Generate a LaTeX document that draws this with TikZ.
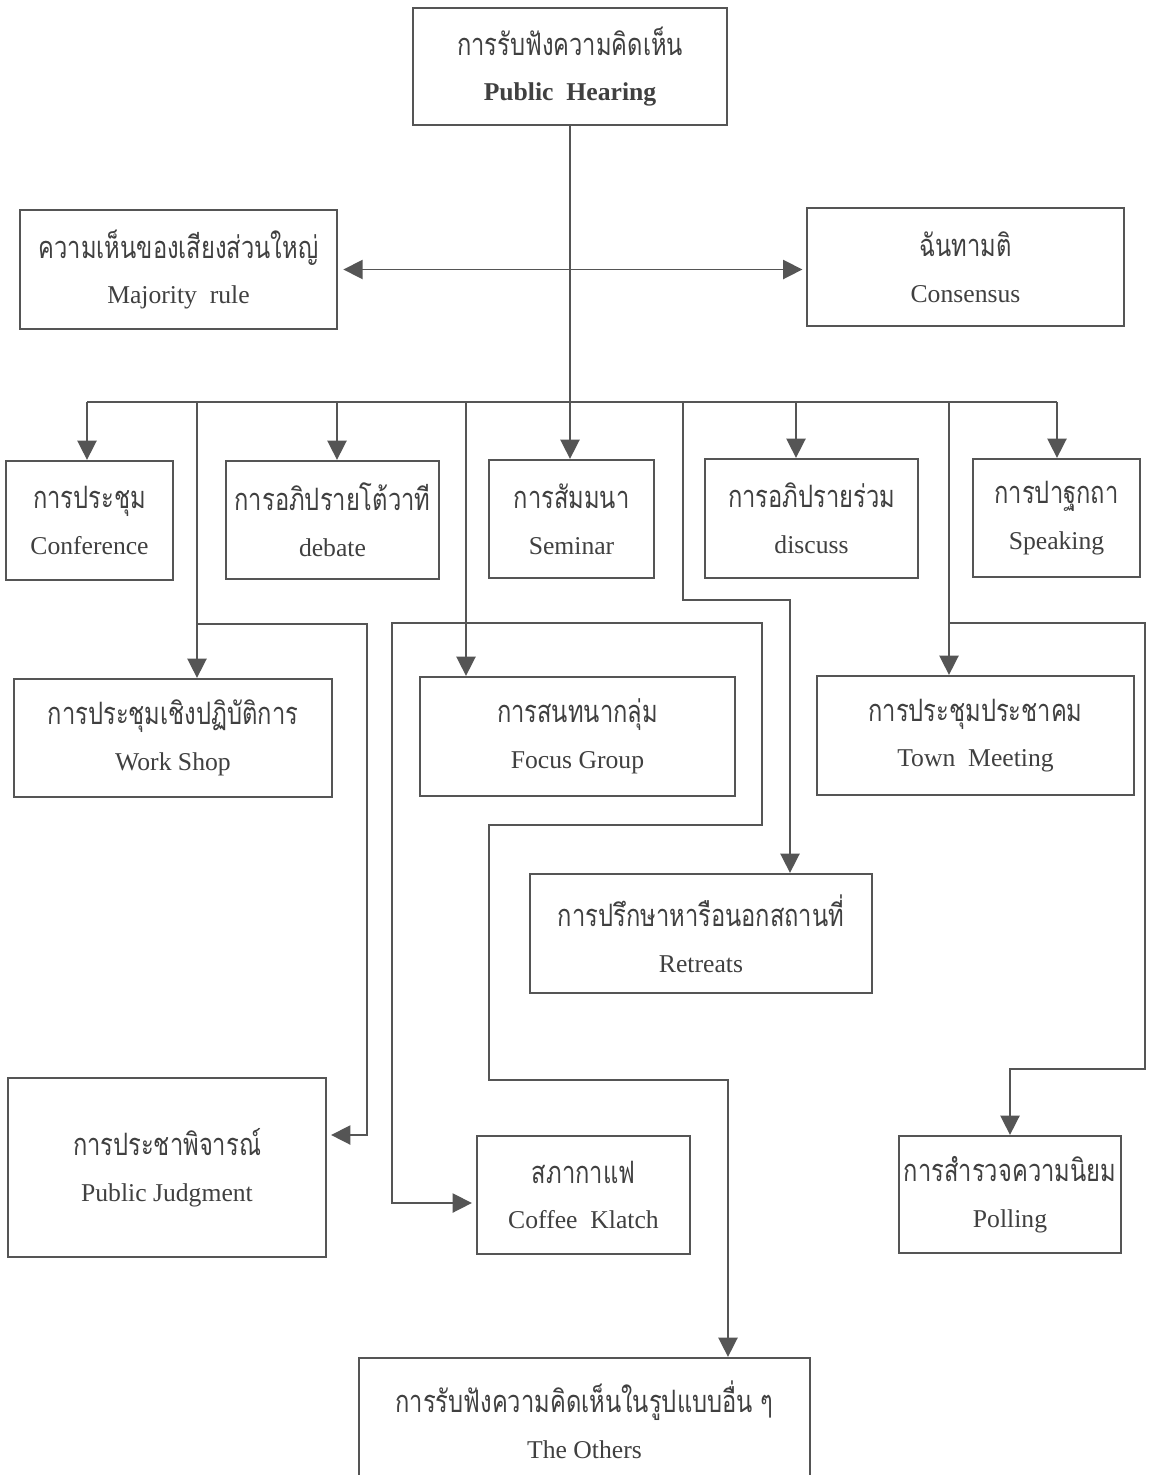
\documentclass[tikz,border=0pt]{standalone}
\usepackage{fontspec}
\usepackage{graphicx}
\setmainfont{Liberation Serif}
\newfontfamily\thaifont[Script=Thai]{Loma}
\usetikzlibrary{arrows.meta}
\usetikzlibrary{calc}
\definecolor{lgray}{HTML}{555555}
\definecolor{tgray}{HTML}{404040}
\tikzset{>={Triangle[width=11pt, length=11pt]},
         wh/.style 2 args = {minimum width=#1*0.02cm, minimum height=#2*0.02cm},
         box/.style = {draw=lgray, line width=1.3pt, text=tgray, align=center,
                       inner sep=0pt, font=\fontsize{14.6}{26}\selectfont},
         link/.style = {draw=lgray, line width=0.9pt}}
\newcommand{\bilabel}[2]{\scalebox{1}[1.3]{\thaifont\fontsize{13.5}{26}\selectfont #1}\\ #2}

\begin{document}
\begin{tikzpicture}[x=0.02cm, y=-0.02cm]
    \path[use as bounding box, fill=white] (0, 0) rectangle (1154, 1475);

    \node [box, wh={314}{117}] (hear) at (570, 66.5) {\bilabel{การรับฟังความคิดเห็น}{\bfseries Public\ \ Hearing}};
    \node [box, wh={317}{119}] (major) at (178.5, 269.5) {\bilabel{ความเห็นของเสียงส่วนใหญ่}{Majority\ \ rule}};
    \node [box, wh={317}{118}] (cons) at (965.5, 267) {\bilabel{ฉันทามติ}{Consensus}};

    \node [box, wh={167}{119}] (conf) at (89.5, 520.5) {\bilabel{การประชุม}{Conference}};
    \node [box, wh={213}{118}] (debate) at (332.5, 520) {\bilabel{การอภิปรายโต้วาที}{debate}};
    \node [box, wh={165}{118}] (semi) at (571.5, 519) {\bilabel{การสัมมนา}{Seminar}};
    \node [box, wh={213}{119}] (disc) at (811.5, 518.5) {\bilabel{การอภิปรายร่วม}{discuss}};
    \node [box, wh={167}{118}] (speak) at (1056.5, 518) {\bilabel{การปาฐกถา}{Speaking}};

    \node [box, wh={318}{118}] (work) at (173, 738) {\bilabel{การประชุมเชิงปฏิบัติการ}{Work Shop}};
    \node [box, wh={315}{119}] (focus) at (577.5, 736.5) {\bilabel{การสนทนากลุ่ม}{Focus Group}};
    \node [box, wh={317}{119}] (town) at (975.5, 735.5) {\bilabel{การประชุมประชาคม}{Town\ \ Meeting}};
    \node [box, wh={342}{119}] (retr) at (701, 933.5) {\bilabel{การปรึกษาหารือนอกสถานที่}{Retreats}};

    \node [box, wh={318}{179}] (judg) at (167, 1167.5) {\bilabel{การประชาพิจารณ์}{Public Judgment}};
    \node [box, wh={213}{118}] (coffee) at (583.5, 1195) {\bilabel{สภากาแฟ}{Coffee\ \ Klatch}};
    \node [box, wh={222}{117}] (poll) at (1010, 1194.5) {\bilabel{การสำรวจความนิยม}{Polling}};
    \node [box, wh={451}{124}] (others) at (584.5, 1420) {\bilabel{การรับฟังความคิดเห็นในรูปแบบอื่น ๆ}{The Others}};

    \draw [link, ->] (hear.south) -- (hear.south |- semi.north);
    \draw [link, <->, shorten <=3pt, shorten >=2pt] (major.east) -- (major.east -| cons.west);

    \coordinate (busL) at (87, 402);
    \coordinate (busR) at (1057, 402);
    \draw [link] (busL) -- (busR);
    \draw [link, ->] (busL) -- (busL |- conf.north);
    \draw [link, ->] (busR) -- (busR |- speak.north);

    \coordinate (dDeb) at (337, 402);
    \coordinate (dDisc) at (796, 402);
    \coordinate (dWork) at (197, 402);
    \coordinate (dFocus) at (466, 402);
    \coordinate (dRetr) at (683, 402);
    \coordinate (dTown) at (949, 402);
    \draw [link, ->] (dDeb) -- (dDeb |- debate.north);
    \draw [link, ->] (dDisc) -- (dDisc |- disc.north);
    \draw [link, ->] (dWork) -- (dWork |- work.north);
    \draw [link, ->] (dFocus) -- (dFocus |- focus.north);
    \draw [link, ->] (dTown) -- (dTown |- town.north);
    \draw [link, ->] (dRetr) -- ++(0, 198) -- ++(107, 0) coordinate (kRetr) -- (kRetr |- retr.north);

    \coordinate (jWork) at (197, 624);
    \coordinate (jFocus) at (466, 623);
    \coordinate (jTown) at (949, 623);
    \draw [link, ->] (jWork) -- ++(170, 0) |- ($(judg.east) + (4, -32.5)$);
    \draw [link, ->] (jFocus) -- ++(-74, 0) |- ($(coffee.west) + (-4, 8)$);
    \draw [link, ->] (jFocus) -- ++(296, 0) -- ++(0, 202) -- ++(-273, 0) -- ++(0, 255) -- ++(239, 0) coordinate (kOth) -- (kOth |- others.north);
    \draw [link, ->] (jTown) -- ++(196, 0) -- ++(0, 446) -| (poll.north);
\end{tikzpicture}
\end{document}
